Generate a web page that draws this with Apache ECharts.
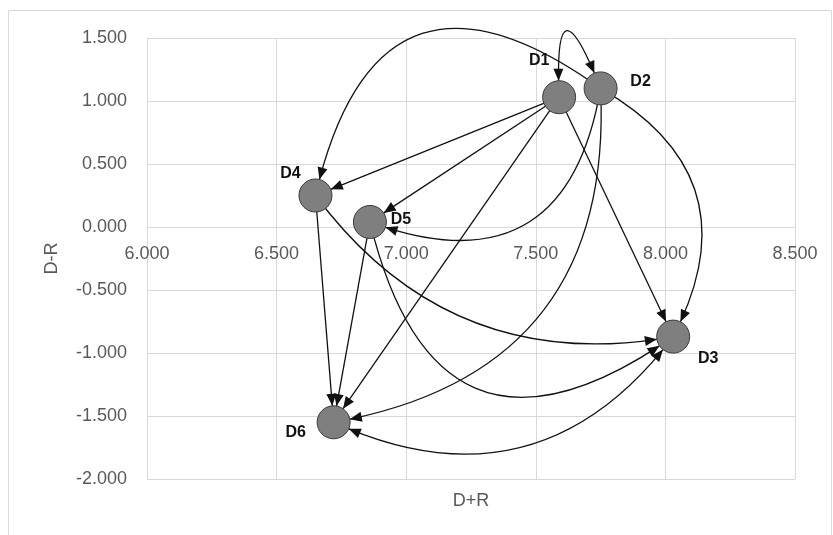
<!DOCTYPE html>
<html><head><meta charset="utf-8">
<script src="https://cdn.jsdelivr.net/npm/echarts@6/dist/echarts.min.js"></script>
<style>html,body{margin:0;padding:0;background:#fff}#c{width:833px;height:535px}</style>
</head><body><div id="c"></div>
<script>
// ---------------- data ----------------
const nodeNames = ['D1', 'D2', 'D3', 'D4', 'D5', 'D6'];
const dPlusR   = [7.59, 7.75, 8.03, 6.65, 6.86, 6.72];   // x : D+R
const dMinusR  = [1.03, 1.10, -0.87, 0.25, 0.04, -1.55]; // y : D-R
const linkSources = ['D1', 'D1', 'D1', 'D1', 'D1', 'D2', 'D2', 'D2', 'D2', 'D4', 'D5', 'D4', 'D5', 'D6'];
const linkTargets = ['D2', 'D4', 'D5', 'D6', 'D3', 'D4', 'D5', 'D6', 'D3', 'D6', 'D6', 'D3', 'D3', 'D3'];
const linkBothWays = [true, false, false, false, false, false, false, false, false, false, false, false, false, true];
const xTickValues = [6.0, 6.5, 7.0, 7.5, 8.0, 8.5];
const yTickValues = [-2.0, -1.5, -1.0, -0.5, 0.0, 0.5, 1.0, 1.5];
const xAxisCrossAt = 0.0;
const xAxisTitle = 'D+R';
const yAxisTitle = 'D-R';

// ---------------- styles ----------------
const linkCurveness = [3.0, 0, 0, 0, 0, -0.75, 0.6, 0.44, 0.48, 0, 0, -0.31, -0.73, -0.4];
const labelOffsets = { D1: [-20, -37], D2: [40, -7], D3: [35, 22], D4: [-25, -22], D5: [31, -2], D6: [-38, 10] };
const ARROW = 'path://M0,0 L24,0 M12,12 L17,24 L7,24 Z';
const GRID_COLOR = '#d9d9d9';
const TEXT_COLOR = '#595959';
const FONT = 'Liberation Sans';

const nodes = nodeNames.map((n, i) => ({
  name: n,
  value: [dPlusR[i], dMinusR[i]],
  label: { offset: labelOffsets[n] }
}));
const links = linkSources.map((s, i) => ({
  source: s,
  target: linkTargets[i],
  symbol: linkBothWays[i] ? [ARROW, ARROW] : ['none', ARROW],
  lineStyle: { curveness: linkCurveness[i] }
}));

const chart = echarts.init(document.getElementById('c'), null, { renderer: 'canvas' });
chart.setOption({
  animation: false,
  backgroundColor: '#ffffff',
  grid: { left: 147, right: 38, top: 38, bottom: 56, containLabel: false },
  xAxis: {
    type: 'value',
    min: xTickValues[0], max: xTickValues[xTickValues.length - 1],
    interval: xTickValues[1] - xTickValues[0],
    axisLine: { show: true, onZero: false, lineStyle: { color: GRID_COLOR, width: 1 } },
    axisTick: { show: false },
    axisLabel: { color: TEXT_COLOR, fontSize: 18, fontFamily: FONT, margin: 18,
      formatter: v => v.toFixed(3) },
    splitLine: { show: true, lineStyle: { color: GRID_COLOR, width: 1 } }
  },
  yAxis: {
    type: 'value',
    min: yTickValues[0], max: yTickValues[yTickValues.length - 1],
    interval: yTickValues[1] - yTickValues[0],
    name: yAxisTitle, nameLocation: 'middle', nameRotate: 90, nameGap: 86,
    nameTextStyle: { color: TEXT_COLOR, fontSize: 18, fontFamily: FONT },
    axisLine: { show: true, onZero: false, lineStyle: { color: GRID_COLOR, width: 1 } },
    axisTick: { show: false },
    axisLabel: { color: TEXT_COLOR, fontSize: 18, fontFamily: FONT, margin: 20,
      formatter: v => v.toFixed(3) },
    splitLine: { show: true, lineStyle: { color: GRID_COLOR, width: 1 } }
  },
  graphic: [
    { type: 'rect', silent: true, z: -10,
      shape: { x: 8.5, y: 10.5, width: 823, height: 560 },
      style: { fill: 'none', stroke: GRID_COLOR, lineWidth: 1 } },
    { type: 'text', silent: true, x: 471, y: 501,
      style: { text: xAxisTitle, fill: TEXT_COLOR, fontSize: 18, fontFamily: FONT, align: 'center', verticalAlign: 'middle' } }
  ],
  series: [{
    type: 'graph',
    coordinateSystem: 'cartesian2d',
    xAxisIndex: 0, yAxisIndex: 0,
    layout: 'none',
    roam: false,
    symbol: 'circle',
    symbolSize: 33,
    itemStyle: { color: '#7f7f7f', borderColor: '#3a3a3a', borderWidth: 1 },
    label: { show: true, position: 'inside', formatter: '{b}', fontSize: 16, fontWeight: 'bold',
      color: '#111111', fontFamily: FONT },
    edgeSymbol: ['none', ARROW],
    edgeSymbolSize: 24,
    lineStyle: { color: '#111111', width: 1.3, opacity: 1 },
    emphasis: { disabled: true },
    data: nodes,
    links: links
  }]
});

// Move the x axis (line + labels) so it crosses the y axis at xAxisCrossAt, as in the original chart.
const yCross = chart.convertToPixel({ yAxisIndex: 0 }, xAxisCrossAt);
const yBottom = chart.convertToPixel({ yAxisIndex: 0 }, yTickValues[0]);
chart.setOption({ xAxis: { offset: yCross - yBottom } });
</script>
</body></html>
